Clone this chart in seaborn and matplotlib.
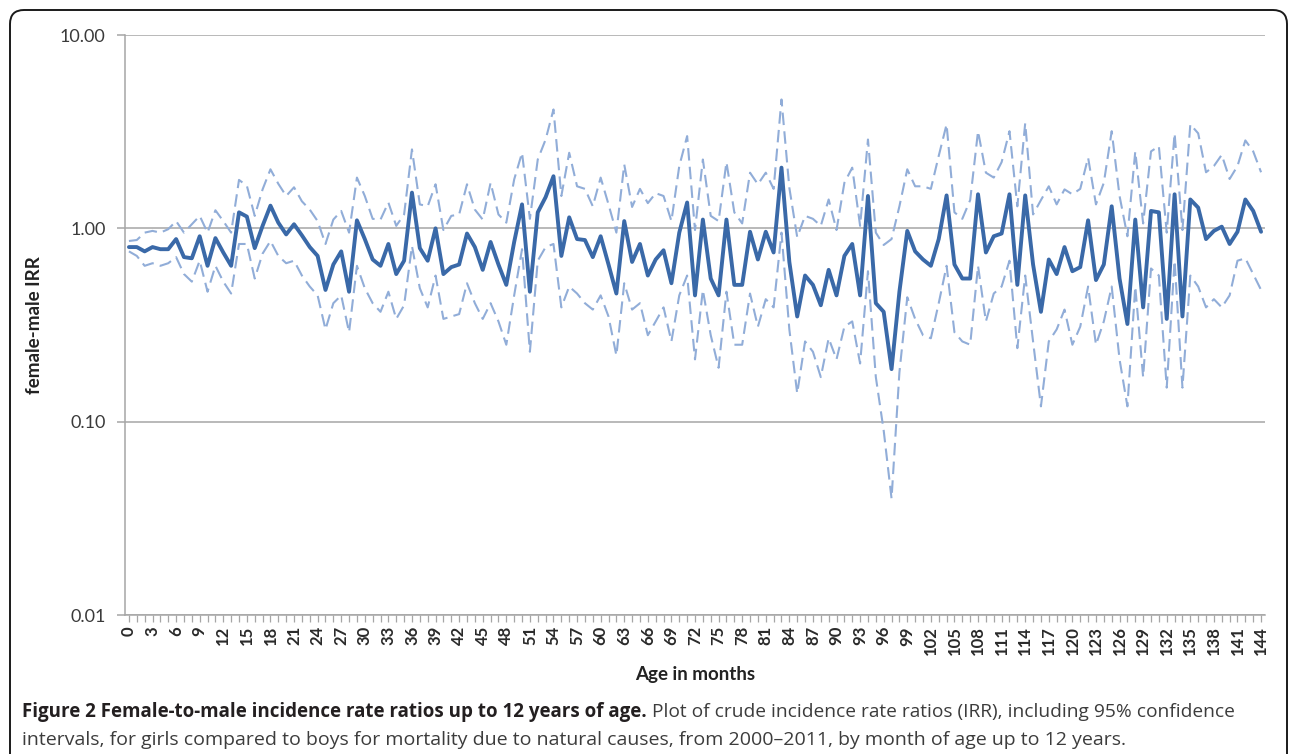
import numpy as np
import pandas as pd
import matplotlib
matplotlib.use("Agg")
import matplotlib.pyplot as plt
import seaborn as sns
from matplotlib.patches import FancyBboxPatch
from matplotlib.ticker import FixedLocator, MultipleLocator, NullLocator, FixedFormatter
from matplotlib.transforms import IdentityTransform

# ---------------- data ----------------
months = list(range(145))

irr = [0.80, 0.80, 0.76, 0.80, 0.78, 0.78, 0.88, 0.71, 0.70, 0.91,
       0.64, 0.89, 0.75, 0.64, 1.21, 1.15, 0.79, 1.03, 1.31, 1.07,
       0.93, 1.05, 0.92, 0.80, 0.72, 0.48, 0.65, 0.76, 0.47, 1.10,
       0.88, 0.69, 0.64, 0.83, 0.58, 0.68, 1.53, 0.79, 0.68, 1.00,
       0.58, 0.63, 0.65, 0.94, 0.80, 0.61, 0.85, 0.65, 0.51, 0.85,
       1.33, 0.47, 1.21, 1.45, 1.86, 0.72, 1.14, 0.88, 0.87, 0.71,
       0.91, 0.65, 0.46, 1.09, 0.67, 0.83, 0.57, 0.69, 0.77, 0.52,
       0.95, 1.36, 0.45, 1.11, 0.55, 0.45, 1.11, 0.51, 0.51, 0.96,
       0.69, 0.96, 0.75, 2.06, 0.67, 0.35, 0.57, 0.51, 0.40, 0.61,
       0.45, 0.72, 0.83, 0.45, 1.47, 0.41, 0.37, 0.187, 0.47, 0.97,
       0.76, 0.69, 0.64, 0.88, 1.48, 0.65, 0.55, 0.55, 1.50, 0.75,
       0.91, 0.94, 1.50, 0.51, 1.48, 0.65, 0.37, 0.69, 0.58, 0.80,
       0.60, 0.63, 1.10, 0.54, 0.65, 1.30, 0.55, 0.32, 1.11, 0.39,
       1.23, 1.21, 0.34, 1.50, 0.35, 1.41, 1.28, 0.88, 0.97, 1.02,
       0.83, 0.96, 1.41, 1.23, 0.96]

upper = [0.86, 0.87, 0.95, 0.97, 0.95, 0.99, 1.09, 0.95, 1.05, 1.16,
         0.95, 1.24, 1.09, 0.95, 1.78, 1.66, 1.16, 1.59, 2.02, 1.70,
         1.47, 1.63, 1.38, 1.25, 1.09, 0.83, 1.11, 1.23, 0.95, 1.83,
         1.47, 1.12, 1.11, 1.36, 1.03, 1.18, 2.56, 1.33, 1.30, 1.69,
         0.98, 1.16, 1.18, 1.69, 1.25, 1.11, 1.72, 1.18, 1.07, 1.79,
         2.46, 1.12, 2.27, 2.88, 4.12, 1.47, 2.46, 1.65, 1.60, 1.30,
         1.83, 1.33, 0.95, 2.14, 1.29, 1.60, 1.35, 1.52, 1.47, 1.09,
         2.10, 3.00, 0.98, 2.27, 1.16, 1.09, 2.20, 1.21, 1.06, 1.94,
         1.69, 1.94, 1.60, 4.64, 1.62, 0.90, 1.16, 1.12, 1.03, 1.41,
         0.98, 1.72, 2.06, 1.03, 2.88, 0.95, 0.82, 0.88, 1.30, 2.02,
         1.65, 1.65, 1.60, 2.37, 3.45, 1.21, 1.12, 1.40, 3.18, 1.94,
         1.83, 2.20, 3.18, 1.30, 3.50, 1.18, 1.40, 1.65, 1.33, 1.59,
         1.50, 1.60, 2.32, 1.33, 1.72, 3.18, 1.47, 0.91, 2.50, 1.06,
         2.50, 2.66, 0.95, 3.10, 0.98, 3.45, 3.10, 1.95, 2.10, 2.40,
         1.80, 2.10, 2.85, 2.50, 1.95]

lower = [0.76, 0.72, 0.64, 0.66, 0.64, 0.66, 0.71, 0.58, 0.53, 0.68,
         0.47, 0.64, 0.53, 0.46, 0.83, 0.83, 0.55, 0.74, 0.86, 0.72,
         0.66, 0.68, 0.57, 0.50, 0.45, 0.30, 0.41, 0.45, 0.29, 0.64,
         0.49, 0.41, 0.37, 0.47, 0.34, 0.40, 0.81, 0.49, 0.39, 0.57,
         0.34, 0.35, 0.36, 0.52, 0.41, 0.34, 0.41, 0.33, 0.25, 0.45,
         0.78, 0.23, 0.68, 0.80, 0.83, 0.39, 0.50, 0.46, 0.41, 0.38,
         0.45, 0.35, 0.22, 0.52, 0.38, 0.41, 0.28, 0.33, 0.39, 0.26,
         0.45, 0.57, 0.21, 0.48, 0.28, 0.19, 0.47, 0.25, 0.25, 0.46,
         0.31, 0.43, 0.39, 0.95, 0.30, 0.14, 0.26, 0.23, 0.17, 0.27,
         0.21, 0.31, 0.33, 0.20, 0.60, 0.17, 0.09, 0.04, 0.18, 0.44,
         0.34, 0.28, 0.27, 0.41, 0.64, 0.29, 0.26, 0.25, 0.64, 0.33,
         0.46, 0.50, 0.68, 0.24, 0.57, 0.26, 0.12, 0.26, 0.30, 0.38,
         0.25, 0.31, 0.50, 0.25, 0.33, 0.50, 0.21, 0.12, 0.50, 0.17,
         0.62, 0.57, 0.15, 0.68, 0.15, 0.57, 0.50, 0.39, 0.43, 0.39,
         0.45, 0.68, 0.70, 0.58, 0.48]

ytick_values = [0.01, 0.1, 1, 10]
ytick_labels = ["0.01", "0.10", "1.00", "10.00"]
xtick_values = list(range(0, 145, 3))
xtick_labels = [str(v) for v in xtick_values]

x_label = "Age in months"
y_label = "female-male IRR"
caption_bold = "Figure 2 Female-to-male incidence rate ratios up to 12 years of age."
caption_rest1 = " Plot of crude incidence rate ratios (IRR), including 95% confidence"
caption_line2 = ("intervals, for girls compared to boys for mortality due to natural causes, "
                 "from 2000\u20132011, by month of age up to 12 years.")

# ---------------- style ----------------
sns.set_theme(style="white")
plt.rcParams['font.family'] = ['Lato', 'DejaVu Sans']

W, H = 1290, 754
fig = plt.figure(figsize=(W / 100, H / 100), dpi=100)
ax = fig.add_axes([125 / W, 1 - 615 / H, 1140 / W, 580 / H])

df = pd.DataFrame({"month": months, "irr": irr, "upper": upper, "lower": lower})

main_color = "#3a69a8"
ci_color = "#91add8"
grid_color = "#a6a6a6"

sns.lineplot(data=df, x="month", y="upper", ax=ax, color=ci_color,
             lw=1.5, linestyle=(0, (6, 3)), zorder=3)
sns.lineplot(data=df, x="month", y="lower", ax=ax, color=ci_color,
             lw=1.5, linestyle=(0, (6, 3)), zorder=3)
sns.lineplot(data=df, x="month", y="irr", ax=ax, color=main_color,
             lw=2.8, zorder=4)

ax.set_yscale("log")
ax.set_ylim(0.01, 10)
ax.set_xlim(-0.5, 144.5)

ax.yaxis.set_major_locator(FixedLocator(ytick_values))
ax.yaxis.set_major_formatter(FixedFormatter(ytick_labels))
ax.yaxis.set_minor_locator(NullLocator())
ax.xaxis.set_major_locator(FixedLocator(xtick_values))
ax.xaxis.set_major_formatter(FixedFormatter(xtick_labels))
ax.xaxis.set_minor_locator(MultipleLocator(1))

ax.grid(axis="y", color=grid_color, lw=1.1, zorder=1)
ax.grid(axis="x", visible=False)
for s in ["top", "right"]:
    ax.spines[s].set_visible(False)
for s in ["left", "bottom"]:
    ax.spines[s].set_color(grid_color)
    ax.spines[s].set_linewidth(1.1)

ax.tick_params(axis="y", which="major", length=6, width=1.1, color=grid_color,
               labelsize=13, labelcolor="#3a3a3a", pad=8, left=True)
ax.tick_params(axis="x", which="both", length=5, width=0.9, color=grid_color,
               direction="out", bottom=True)
ax.tick_params(axis="x", which="major", labelsize=12, labelcolor="#2a2a2a",
               labelrotation=90, pad=3)
for t in ax.get_xticklabels():
    t.set_fontweight("bold")

ax.set_xlabel(x_label, fontsize=13.5, fontweight="bold", color="#222222", labelpad=8)
ax.set_ylabel(y_label, fontsize=13.5, fontweight="bold", color="#222222", labelpad=12)

# ---------------- caption ----------------
cap_font = ['Open Sans', 'DejaVu Sans']
t1 = fig.text(22 / W, 1 - 717 / H, caption_bold, fontsize=13.5, fontweight="bold",
              family=cap_font, color="#231f20", ha="left", va="baseline")
fig.canvas.draw()
bb = t1.get_window_extent(renderer=fig.canvas.get_renderer())
fig.text(bb.x1 / W, 1 - 717 / H, caption_rest1, fontsize=13.8, family=cap_font,
         color="#3c3c3c", ha="left", va="baseline")
fig.text(22 / W, 1 - 745 / H, caption_line2, fontsize=14.0, family=cap_font,
         color="#3c3c3c", ha="left", va="baseline")

# ---------------- frame ----------------
frame = FancyBboxPatch((10, -40), 1277, H - 10 + 40,
                       boxstyle="round,pad=0,rounding_size=14",
                       transform=IdentityTransform(), fill=False,
                       ec="#1a1a1a", lw=1.4, clip_on=False)
fig.patches.append(frame)

fig.savefig("out.png", dpi=100)
